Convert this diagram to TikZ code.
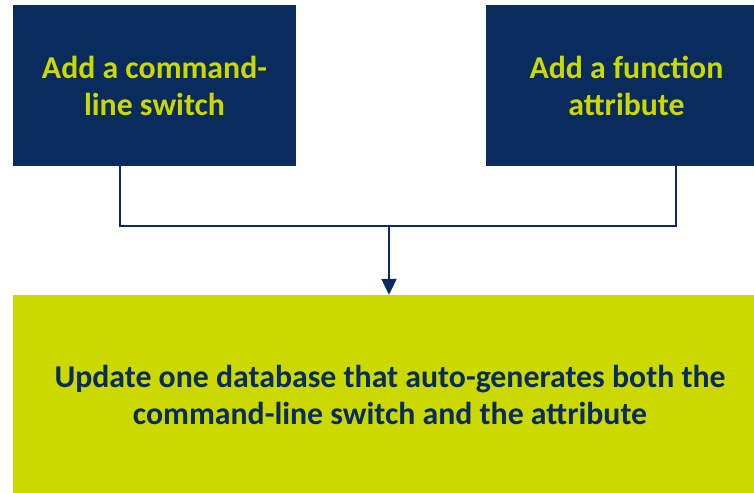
\documentclass[tikz,border=0pt]{standalone}
\usepackage{fontspec}
\setmainfont{Carlito}
\usetikzlibrary{arrows.meta}
\definecolor{navy}{RGB}{10,43,94}
\definecolor{lime}{RGB}{204,217,0}
\tikzset{
  topbox/.style={rectangle, fill=navy, text=lime, inner sep=0pt, align=center,
    font=\bfseries\fontsize{31.8}{37}\selectfont},
  bottombox/.style={rectangle, fill=lime, text=navy, inner sep=0pt, align=center,
    font=\bfseries\fontsize{31.8}{37}\selectfont},
  conn/.style={draw=navy, line width=2pt},
  arrowconn/.style={conn, -{Triangle[length=16pt,width=15pt]}}
}
\begin{document}
\begin{tikzpicture}[x=1pt,y=-1pt]
\useasboundingbox (0,0) rectangle (754,492);
\clip (0,0) rectangle (754,492);
\fill[white] (0,0) rectangle (754,492);
\node[topbox, minimum width=283pt, minimum height=161pt] (l) at (154.5,85.5) {Add a command-\\line switch};
\node[topbox, minimum width=281pt, minimum height=161pt] (r) at (626.5,85.5) {Add a function\\attribute};
\node[bottombox, minimum width=754pt, minimum height=200pt] (b) at (390,395) {Update one database that auto-generates both the\\command-line switch and the attribute};
\coordinate (lx) at (120,0);
\coordinate (rx) at (676,0);
\coordinate (j) at (389,226);
\draw[conn] (l.south -| lx) |- (rx |- j) -- (r.south -| rx);
\draw[arrowconn] (j) -- (j |- b.north);
\end{tikzpicture}
\end{document}
